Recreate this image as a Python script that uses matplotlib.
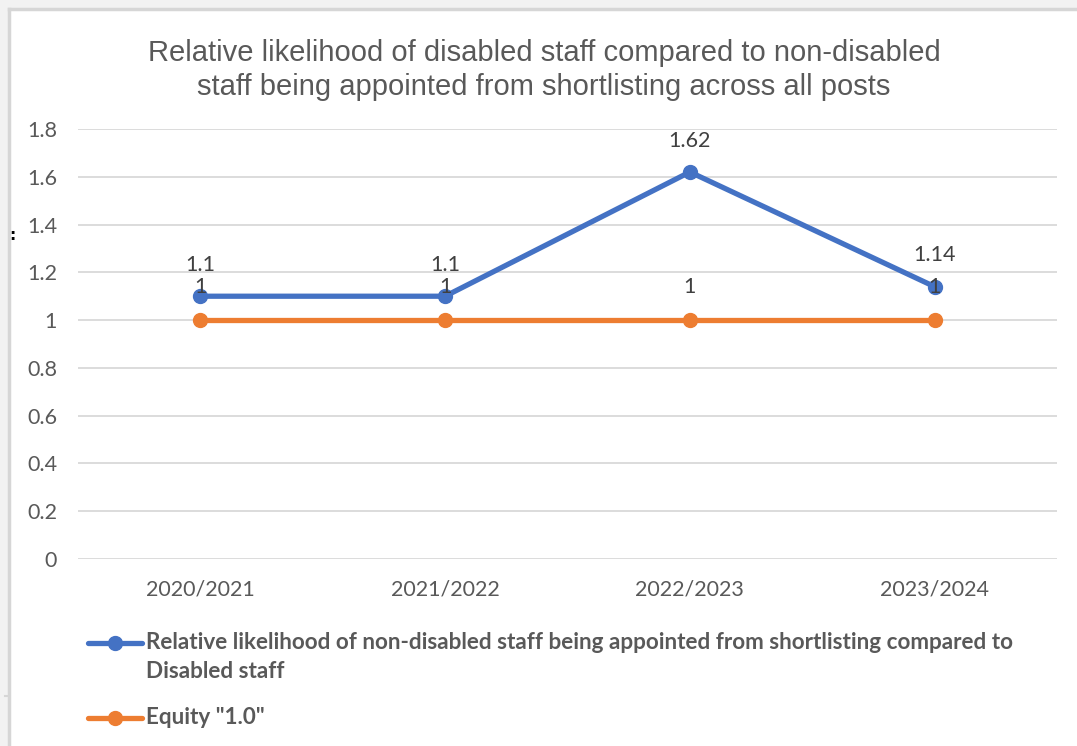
import matplotlib
matplotlib.use('Agg')
import matplotlib.pyplot as plt
from matplotlib.patches import Rectangle
from matplotlib.lines import Line2D

years = ['2020/2021', '2021/2022', '2022/2023', '2023/2024']
likelihood = [1.1, 1.1, 1.62, 1.14]
equity = [1, 1, 1, 1]
yticks = [0, 0.2, 0.4, 0.6, 0.8, 1, 1.2, 1.4, 1.6, 1.8]

blue = '#4472C4'
orange = '#ED7D31'
grey_txt = '#595959'
body_font = 'Lato'

W, H = 1077, 746
fig = plt.figure(figsize=(W / 100, H / 100), dpi=100)
fig.patch.set_facecolor('#f2f2f2')

# white chart panel with a thin grey frame on the top and left
fig.patches.append(Rectangle((8 / W, 0), 1 - 8 / W, 1 - 8 / H, transform=fig.transFigure,
                             facecolor='white', edgecolor='none', zorder=-5))
fig.add_artist(Line2D([9 / W, 9 / W], [0, 1 - 9 / H], transform=fig.transFigure,
                      color='#d6d6d6', lw=2.5))
fig.add_artist(Line2D([9 / W, 1], [1 - 9 / H, 1 - 9 / H], transform=fig.transFigure,
                      color='#d6d6d6', lw=2.5))
fig.add_artist(Line2D([5 / W, 9 / W], [1 - 696 / H, 1 - 696 / H], transform=fig.transFigure,
                      color='#d6d6d6', lw=1.5))
fig.text(12 / W, 1 - 236 / H, ':', fontsize=11, color='black', ha='center', va='center',
         family='DejaVu Sans', weight='bold')

ax = fig.add_axes([78 / W, 1 - 559 / H, 979 / W, 430 / H])
ax.set_facecolor('none')
x = list(range(len(years)))

ax.plot(x, likelihood, color=blue, lw=3.8, marker='o', ms=10, zorder=3,
        solid_capstyle='round')
ax.plot(x, equity, color=orange, lw=3.8, marker='o', ms=10, zorder=3,
        solid_capstyle='round')

for xi, v in zip(x, likelihood):
    ax.annotate(f'{v:g}', (xi, v), xytext=(0, 22.5), textcoords='offset points',
                ha='center', va='center', fontsize=15.5, color='#404040', family=body_font)
for xi, v in zip(x, equity):
    ax.annotate(f'{v:g}', (xi, v), xytext=(0, 23.5), textcoords='offset points',
                ha='center', va='center', fontsize=15.5, color='#404040', family=body_font,
                zorder=4)

ax.set_xlim(-0.5, len(years) - 0.5)
ax.set_ylim(0, 1.8)
ax.set_yticks(yticks)
ax.set_yticklabels([f'{t:g}' for t in yticks])
ax.set_xticks(x)
ax.set_xticklabels(years)
ax.grid(axis='y', color='#d9d9d9', lw=1.3)
ax.set_axisbelow(True)
for s in ax.spines.values():
    s.set_visible(False)
ax.tick_params(length=0)
ax.tick_params(axis='y', pad=15, labelsize=15.5, labelcolor=grey_txt)
ax.tick_params(axis='x', pad=15, labelsize=15.5, labelcolor=grey_txt)
for lab in ax.get_xticklabels() + ax.get_yticklabels():
    lab.set_family(body_font)

fig.text(544 / W, 1 - 70 / H,
         'Relative likelihood of disabled staff compared to non-disabled\n'
         'staff being appointed from shortlisting across all posts',
         ha='center', va='center', fontsize=21, color=grey_txt,
         family='Liberation Sans', linespacing=1.3)

# legend drawn under the plot
legend_items = [
    (blue, 'Relative likelihood of non-disabled staff being appointed from shortlisting compared to\n'
           'Disabled staff', 643),
    (orange, 'Equity "1.0"', 718),
]
for col, label, ypix in legend_items:
    yf = 1 - ypix / H
    fig.add_artist(Line2D([88 / W, 142 / W], [yf, yf], transform=fig.transFigure,
                          color=col, lw=3.8, solid_capstyle='round'))
    fig.add_artist(Line2D([115 / W], [yf], transform=fig.transFigure, color=col,
                          marker='o', ms=10))
    fig.text(146 / W, yf + 11 / H, label, ha='left', va='top', fontsize=16.2,
             color=grey_txt, weight='bold', family=body_font, linespacing=1.5)

fig.savefig('out.png', dpi=100, facecolor=fig.get_facecolor())
